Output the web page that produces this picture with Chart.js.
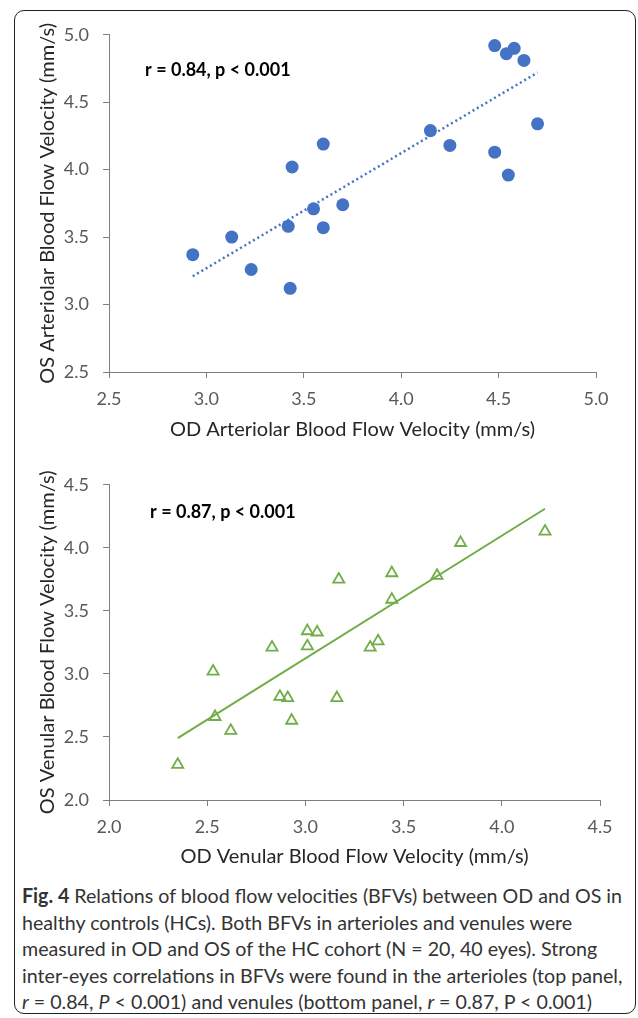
<!DOCTYPE html>
<html>
<head>
<meta charset="utf-8">
<script src="https://cdn.jsdelivr.net/npm/chart.js@4"></script>
<style>
  body { margin: 0; background: #fff; }
  #frame {
    position: absolute; left: 14px; top: 10px; width: 620px; height: 1002px;
    border: 1.5px solid #222; border-radius: 10px;
  }
  .box { position: absolute; left: 14px; width: 622px; }
  #box1 { top: 10px; height: 450px; }
  #box2 { top: 460px; height: 420px; }
  #caption {
    position: absolute; left: 22px; top: 882px;
    font-family: Lato, sans-serif;
    font-size: 20px; line-height: 26.5px; color: #333; white-space: nowrap;
    transform-origin: 0 0;
  }
  #caption span { display: inline-block; }
</style>
</head>
<body>
<div id="frame"></div>
<div class="box" id="box1"><canvas id="arterioles"></canvas></div>
<div class="box" id="box2"><canvas id="venules"></canvas></div>
<div id="caption">
  <span id="firstLine"><b>Fig. 4</b> Relations of blood flow velocities (BFVs) between OD and OS in</span><br>
  <span>healthy controls (HCs). Both BFVs in arterioles and venules were</span><br>
  <span>measured in OD and OS of the HC cohort (N = 20, 40 eyes). Strong</span><br>
  <span>inter-eyes correlations in BFVs were found in the arterioles (top panel,</span><br>
  <span><i>r</i> = 0.84, <i>P</i> &lt; 0.001) and venules (bottom panel, <i>r</i> = 0.87, P &lt; 0.001)</span>
</div>
<script>
// top panel: arterioles
const arterialOD = [2.93, 3.13, 3.23, 3.42, 3.43, 3.44, 3.55, 3.60, 3.60, 3.70, 4.15, 4.25, 4.48, 4.55, 4.70, 4.48, 4.54, 4.58, 4.63];
const arterialOS = [3.37, 3.50, 3.26, 3.58, 3.12, 4.02, 3.71, 3.57, 4.19, 3.74, 4.29, 4.18, 4.13, 3.96, 4.34, 4.92, 4.86, 4.90, 4.81];
const arterialTrendX = [2.93, 4.70];
const arterialTrendY = [3.21, 4.72];

// bottom panel: venules
const venousOD = [2.35, 2.53, 2.54, 2.62, 2.83, 2.87, 2.91, 2.93, 3.01, 3.06, 3.01, 3.16, 3.17, 3.33, 3.37, 3.44, 3.44, 3.67, 3.79, 4.22];
const venousOS = [2.28, 3.02, 2.66, 2.55, 3.21, 2.82, 2.81, 2.63, 3.34, 3.33, 3.22, 2.81, 3.75, 3.21, 3.26, 3.80, 3.59, 3.78, 4.04, 4.13];
const venousTrendX = [2.35, 4.22];
const venousTrendY = [2.49, 4.31];

const arterialTicks = ['2.5', '3.0', '3.5', '4.0', '4.5', '5.0'];
const venousTicks = ['2.0', '2.5', '3.0', '3.5', '4.0', '4.5'];

const toPoints = (xs, ys) => xs.map((x, i) => ({ x, y: ys[i] }));

const notePlugin = {
  id: 'note',
  afterDatasetsDraw(chart, args, opts) {
    const { ctx, scales: { x, y } } = chart;
    ctx.save();
    ctx.font = 'bold 18px Lato';
    ctx.fillStyle = '#000';
    ctx.textBaseline = 'middle';
    ctx.fillText(opts.text, x.getPixelForValue(opts.x), y.getPixelForValue(opts.y));
    ctx.restore();
  }
};

function axis(ticks, title, isY, size) {
  const min = parseFloat(ticks[0]);
  const max = parseFloat(ticks[ticks.length - 1]);
  return {
    type: 'linear',
    min, max,
    afterFit: s => { if (isY) s.width = size; else s.height = size; },
    border: { display: true, color: '#7f7f7f', width: 1 },
    grid: { display: true, drawOnChartArea: false, drawTicks: true, tickLength: 6, color: '#7f7f7f' },
    ticks: {
      stepSize: 0.5,
      padding: isY ? 14 : 10,
      color: '#595959',
      font: { family: 'Lato', size: 18 },
      callback: v => v.toFixed(1)
    },
    title: {
      display: true,
      text: title,
      color: '#262626',
      font: { family: 'Lato', size: 20 },
      padding: { top: 4, bottom: 4 }
    }
  };
}

function makeChart(id, cfg) {
  return new Chart(document.getElementById(id), {
    type: 'scatter',
    data: {
      datasets: [
        {
          data: toPoints(cfg.xs, cfg.ys),
          pointStyle: cfg.pointStyle,
          pointRadius: cfg.radius,
          pointBackgroundColor: cfg.fill,
          pointBorderColor: cfg.color,
          pointBorderWidth: cfg.pointBorder
        },
        {
          type: 'line',
          data: toPoints(cfg.trendX, cfg.trendY),
          borderColor: cfg.color,
          borderWidth: cfg.lineWidth,
          borderDash: cfg.dash,
          pointRadius: 0,
          fill: false
        }
      ]
    },
    options: {
      responsive: true,
      maintainAspectRatio: false,
      animation: false,
      layout: { padding: cfg.padding },
      plugins: {
        legend: { display: false },
        tooltip: { enabled: false },
        note: cfg.note
      },
      scales: {
        x: axis(cfg.xTicks, cfg.xTitle, false, cfg.xSize),
        y: axis(cfg.yTicks, cfg.yTitle, true, 77)
      }
    },
    plugins: [notePlugin]
  });
}

makeChart('arterioles', {
  xs: arterialOD, ys: arterialOS, trendX: arterialTrendX, trendY: arterialTrendY,
  xTicks: arterialTicks, yTicks: arterialTicks,
  xTitle: 'OD Arteriolar Blood Flow Velocity (mm/s)',
  yTitle: 'OS Arteriolar Blood Flow Velocity (mm/s)',
  pointStyle: 'circle', radius: 6.5, fill: '#4472c4', color: '#4472c4', pointBorder: 0,
  lineWidth: 2.5, dash: [2, 3],
  xSize: 74,
  padding: { left: 18, right: 40, top: 24, bottom: 14 },
  note: { text: 'r = 0.84, p < 0.001', x: 2.685, y: 4.734 }
});

makeChart('venules', {
  xs: venousOD, ys: venousOS, trendX: venousTrendX, trendY: venousTrendY,
  xTicks: venousTicks, yTicks: venousTicks,
  xTitle: 'OD Venular Blood Flow Velocity (mm/s)',
  yTitle: 'OS Venular Blood Flow Velocity (mm/s)',
  pointStyle: 'triangle', radius: 6.4, fill: 'rgba(255,255,255,0)', color: '#70ad47', pointBorder: 1.8,
  lineWidth: 2, dash: [],
  xSize: 73,
  padding: { left: 18, right: 36, top: 23, bottom: 7 },
  note: { text: 'r = 0.87, p < 0.001', x: 2.209, y: 4.282 }
});

// squeeze caption to the condensed width of the original
const caption = document.getElementById('caption');
const firstWidth = document.getElementById('firstLine').getBoundingClientRect().width;
caption.style.transform = `scaleX(${600 / firstWidth})`;
</script>
</body>
</html>
